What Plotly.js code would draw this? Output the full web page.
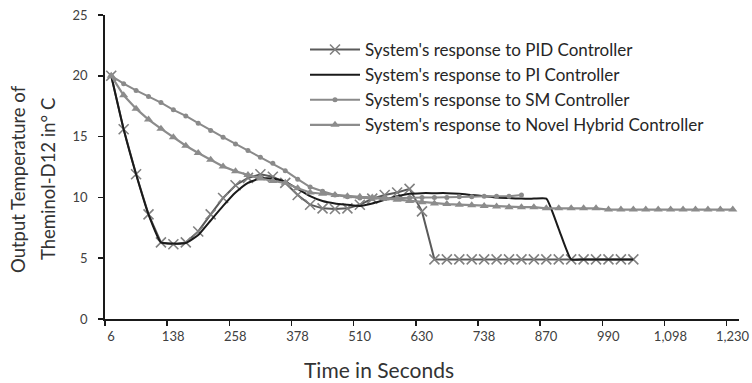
<!DOCTYPE html>
<html>
<head>
<meta charset="utf-8">
<script src="https://cdn.plot.ly/plotly-3.0.1.min.js"></script>
<style>
  html, body { margin: 0; padding: 0; background: #ffffff; }
  #chart { width: 752px; height: 383px; }
</style>
</head>
<body>
<div id="chart"></div>
<script>
// Category tick labels (time in seconds), one label every 5 samples
const timeLabels = ['6', '138', '258', '378', '510', '630', '738', '870', '990', '1,098', '1,230'];
const labelEvery = 5;
const sampleCount = 51;

// Output temperature (°C) per sample
const pidValues = [20.0, 15.6, 11.9, 8.6, 6.3, 6.15, 6.3, 7.2, 8.6, 9.95,
  11.0, 11.6, 11.9, 11.7, 11.2, 10.2, 9.4, 9.1, 9.05, 9.1,
  9.4, 9.9, 10.2, 10.4, 10.7, 8.85, 4.9, 4.9, 4.9, 4.9,
  4.9, 4.9, 4.9, 4.9, 4.9, 4.9, 4.9, 4.9, 4.9, 4.9,
  4.9, 4.9, 4.9];
const piValues = [20.0, 15.6, 11.9, 8.6, 6.3, 6.2, 6.25, 6.9, 8.1, 9.3,
  10.4, 11.2, 11.55, 11.55, 11.3, 10.7, 10.1, 9.7, 9.5, 9.4,
  9.3, 9.5, 9.8, 10.1, 10.3, 10.35, 10.35, 10.35, 10.3, 10.2,
  10.1, 10.0, 9.95, 9.9, 9.9, 9.9, 7.4, 4.9, 4.9, 4.9,
  4.9, 4.9, 4.9];
const smValues = [20.0, 19.35, 18.8, 18.3, 17.8, 17.2, 16.7, 16.1, 15.5, 14.95,
  14.4, 13.85, 13.3, 12.8, 12.2, 11.5, 10.85, 10.5, 10.2, 10.05,
  9.95, 9.9, 9.9, 9.95, 10.0, 10.0, 10.0, 10.0, 10.05, 10.05,
  10.1, 10.1, 10.1, 10.2];
const hybridValues = [20.0, 18.4, 17.3, 16.4, 15.65, 14.95, 14.25, 13.65, 13.1, 12.55,
  12.15, 11.85, 11.55, 11.35, 11.2, 10.75, 10.4, 10.3, 10.2, 10.1,
  10.05, 10.0, 9.9, 9.8, 9.7, 9.6, 9.5, 9.45, 9.4, 9.35,
  9.3, 9.25, 9.2, 9.2, 9.2, 9.1, 9.1, 9.1, 9.1, 9.1,
  9.0, 9.0, 9.0, 9.0, 9.0, 9.0, 9.0, 9.0, 9.0, 9.0, 9.0];

const seriesNames = [
  "System's response to PID Controller",
  "System's response to PI Controller",
  "System's response to SM Controller",
  "System's response to Novel Hybrid Controller"
];

const idx = arr => arr.map((_, i) => i);

const traces = [
  {
    x: idx(pidValues), y: pidValues, name: seriesNames[0], type: 'scatter', mode: 'lines+markers',
    line: { color: '#5a5a5a', width: 2 },
    marker: { symbol: 'x-thin', size: 10, color: '#808080', line: { color: '#808080', width: 1.6 } }
  },
  {
    x: idx(piValues), y: piValues, name: seriesNames[1], type: 'scatter', mode: 'lines',
    line: { color: '#1a1a1a', width: 2, shape: 'spline', smoothing: 0.45 }
  },
  {
    x: idx(smValues), y: smValues, name: seriesNames[2], type: 'scatter', mode: 'lines+markers',
    line: { color: '#8a8a8a', width: 2 },
    marker: { symbol: 'circle', size: 5, color: '#8a8a8a' }
  },
  {
    x: idx(hybridValues), y: hybridValues, name: seriesNames[3], type: 'scatter', mode: 'lines+markers',
    line: { color: '#8c8c8c', width: 2.2 },
    marker: { symbol: 'triangle-up', size: 8, color: '#8c8c8c' }
  }
];

// tick marks sit on category boundaries; labels belong to every 5th category
const tickVals = timeLabels.map((_, k) => k * labelEvery - 0.5);

const W = 752, H = 383;
const m = { l: 105, r: 13, t: 15, b: 64 };
const pw = W - m.l - m.r, ph = H - m.t - m.b;
const px = v => (v - m.l) / pw;
const py = v => (H - m.b - v) / ph;

const layout = {
  width: W, height: H,
  margin: m,
  paper_bgcolor: '#ffffff', plot_bgcolor: '#ffffff',
  font: { family: 'Lato, "Open Sans", sans-serif', color: '#404040', size: 13 },
  showlegend: true,
  legend: {
    x: px(305), y: py(32), xanchor: 'left', yanchor: 'top',
    bgcolor: 'rgba(0,0,0,0)', borderwidth: 0,
    font: { family: 'Lato, sans-serif', size: 17, color: '#262626' },
    itemwidth: 50, tracegroupgap: 0
  },
  xaxis: {
    range: [-0.5, sampleCount - 0.5],
    tickmode: 'array', tickvals: tickVals, ticktext: timeLabels,
    ticklabelshift: 6,
    ticks: 'outside', ticklen: 5, tickwidth: 1.5, tickcolor: '#1a1a1a',
    showline: true, linecolor: '#1a1a1a', linewidth: 1.8,
    showgrid: false, zeroline: false,
    tickfont: { size: 13, color: '#404040' }
  },
  yaxis: {
    range: [0, 25], tickmode: 'linear', tick0: 0, dtick: 5,
    ticks: 'outside', ticklen: 5, tickwidth: 1.5, tickcolor: '#1a1a1a',
    ticklabelstandoff: 8,
    showline: true, linecolor: '#1a1a1a', linewidth: 1.8,
    showgrid: false, zeroline: false,
    tickfont: { size: 13, color: '#404040' }
  },
  annotations: [
    { text: 'Time in Seconds', xref: 'paper', yref: 'paper', x: px(378.5), y: py(369),
      xanchor: 'center', yanchor: 'middle', showarrow: false,
      font: { family: 'Lato, sans-serif', size: 21, color: '#333333' } },
    { text: 'Output Temperature of', xref: 'paper', yref: 'paper', x: px(18), y: py(179),
      xanchor: 'center', yanchor: 'middle', showarrow: false, textangle: -90,
      font: { family: 'Lato, sans-serif', size: 18.5, color: '#333333' } },
    { text: 'Theminol-D12 in° C', xref: 'paper', yref: 'paper', x: px(48), y: py(179),
      xanchor: 'center', yanchor: 'middle', showarrow: false, textangle: -90,
      font: { family: 'Lato, sans-serif', size: 18.5, color: '#333333' } }
  ]
};

Plotly.newPlot('chart', traces, layout, { staticPlot: true, displayModeBar: false });
</script>
</body>
</html>
